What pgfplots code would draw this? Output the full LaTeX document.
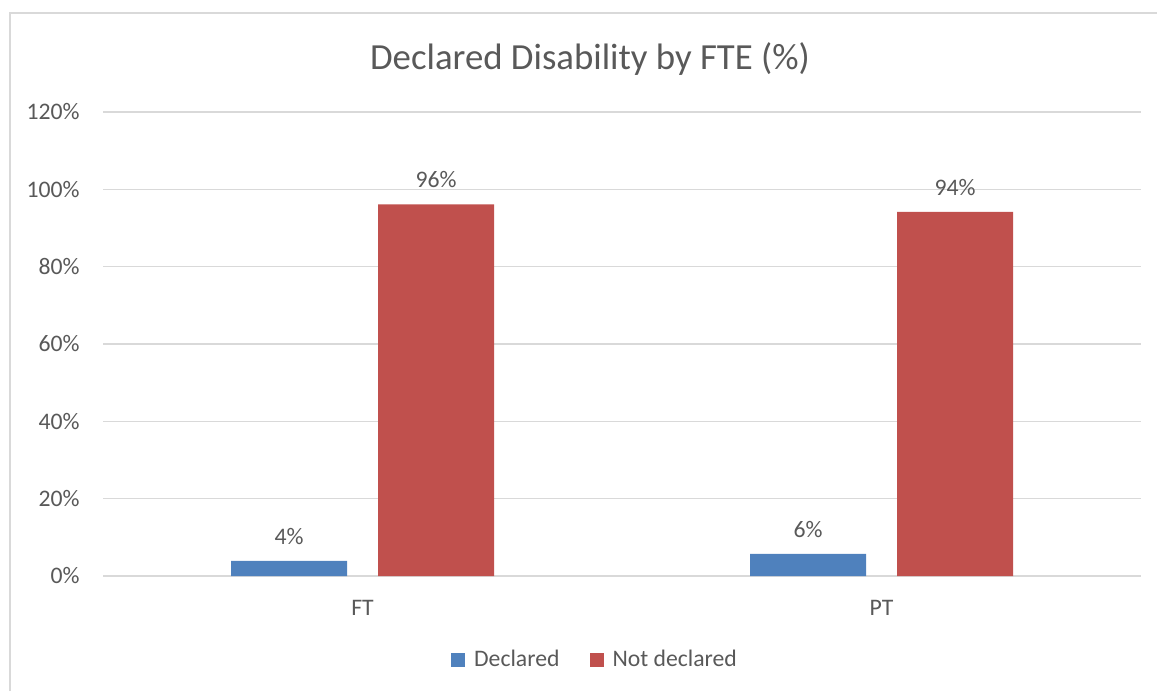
\documentclass[border=0pt]{standalone}
\usepackage{pgfplots}
\pgfplotsset{compat=1.18}
\usepackage{fontspec}
\setmainfont{Carlito}
\definecolor{txt}{HTML}{595959}
\definecolor{gridc}{HTML}{D9D9D9}
\definecolor{blu}{HTML}{4F81BD}
\definecolor{rd}{HTML}{C0504D}
\begin{document}
\begin{tikzpicture}
% page = 1157x691 px at 0.5pt per px
\path[use as bounding box] (0,0) rectangle (578.5pt,345.5pt);
\draw[gridc, line width=1pt] (5pt,0) -- (5pt,339pt) -- (578.5pt,339pt);
\node[txt, font=\fontsize{18.4}{22}\selectfont] at (295pt,316pt) {Declared Disability by FTE (\%)};
\begin{axis}[
    at={(51.5pt,57.5pt)}, anchor=south west,
    scale only axis,
    width=519pt, height=232pt,
    ybar=15.5pt, bar width=58pt,
    xmin=-0.5, xmax=1.5,
    ymin=0, ymax=120,
    xtick={0,1}, xticklabels={FT,PT},
    ytick={0,20,...,120},
    yticklabels={0\%,20\%,40\%,60\%,80\%,100\%,120\%},
    axis x line*=bottom, axis y line*=left,
    x axis line style={draw=gridc, line width=0.75pt, -},
    y axis line style={draw=none},
    major tick length=0pt,
    xmajorgrids=false, ymajorgrids=true,
    major grid style={draw=gridc, line width=0.75pt},
    ytick style={draw=none}, xtick style={draw=none},
    yticklabel style={font=\fontsize{11.85}{14}\selectfont, color=txt, inner sep=0pt, xshift=-11.5pt},
    xticklabel style={font=\fontsize{11.85}{14}\selectfont, color=txt, inner sep=0pt, anchor=north, yshift=-12pt},
    nodes near coords={\pgfmathprintnumber[fixed,precision=0]{\pgfplotspointmeta}\%},
    /pgf/number format/assume math mode=true,
    nodes near coords style={font=\fontsize{11.85}{14}\selectfont, color=txt, inner sep=0pt, anchor=south, yshift=8pt},
    legend columns=2,
    legend style={at={(0.5,0)}, anchor=center, xshift=-13pt, yshift=-42pt, draw=none, fill=none,
        font=\fontsize{11.85}{14}\selectfont, text=txt,
        /tikz/every odd column/.append style={column sep=2.5pt},
        /tikz/every even column/.append style={column sep=13pt}},
    legend image code/.code={\fill[#1] (0pt,-3.5pt) rectangle (7pt,3.5pt);},
]
\addplot[fill=blu, draw=none] coordinates {(0,3.9) (1,5.7)};
\addplot[fill=rd, draw=none] coordinates {(0,96.1) (1,94.2)};
\legend{Declared, Not declared}
\end{axis}
\end{tikzpicture}
\end{document}
